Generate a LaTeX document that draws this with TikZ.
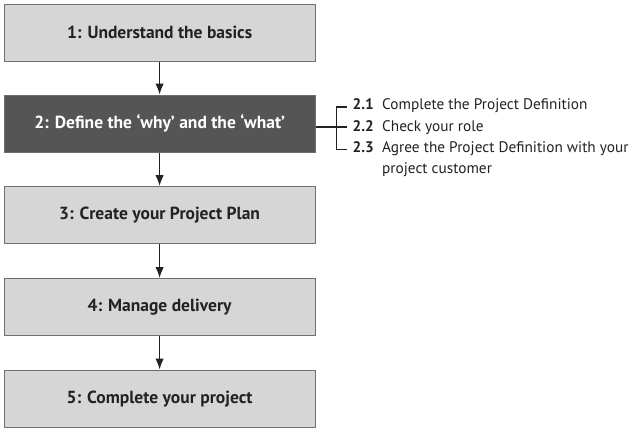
\documentclass[tikz,border=0pt]{standalone}
\usepackage{fontspec}
\setmainfont{PT Sans}
\usetikzlibrary{arrows.meta}
\definecolor{boxfill}{HTML}{D6D6D6}
\definecolor{boxdark}{HTML}{555555}
\definecolor{boxline}{HTML}{6E6E6E}
\definecolor{txt}{HTML}{222222}
\newcommand{\subnum}[1]{\makebox[29.5pt][l]{\textbf{#1}}}
\begin{document}
\begin{tikzpicture}[x=1pt,y=-1pt,
  stepbox/.style={draw=boxline,line width=1.2pt,fill=boxfill,minimum width=311pt,minimum height=57pt,inner sep=0pt,anchor=north west,text=txt,font=\fontsize{17.5}{19}\selectfont\bfseries},
  darkbox/.style={stepbox,fill=boxdark,text=white},
  flow/.style={draw=txt,line width=1.3pt,-{Latex[length=11pt,width=8.5pt]}},
  bracket/.style={draw=txt,line width=1.1pt},
  sub/.style={anchor=west,inner sep=0pt,text=txt,font=\fontsize{15.3}{17}\selectfont}]
\useasboundingbox (0,0) rectangle (632,431);
\node[stepbox] (b1) at (3.5,3.5) {1: Understand the basics};
\node[darkbox] (b2) at (3.5,94.5) {2: Define the ‘why’ and the ‘what’};
\node[stepbox] (b3) at (3.5,186) {3: Create your Project Plan};
\node[stepbox] (b4) at (3.5,278) {4: Manage delivery};
\node[stepbox] (b5) at (3.5,369.5) {5: Complete your project};
\draw[flow] (b1) -- (b2);
\draw[flow] (b2) -- (b3);
\draw[flow] (b3) -- (b4);
\draw[flow] (b4) -- (b5);
\node[sub] (s1) at (352.5,106) {\subnum{2.1}Complete the Project Definition};
\node[sub] (s2) at (352.5,127.5) {\subnum{2.2}Check your role};
\node[sub] (s3) at (352.5,148.5) {\subnum{2.3}Agree the Project Definition with your};
\node[sub] (s4) at (382,170) {project customer};
\coordinate (j) at (336.5,127);
\draw[bracket] (b2.east |- j) -- (j);
\draw[bracket] ([xshift=-6pt,yshift=-1pt]s1.west) -| (j) |- ([xshift=-6pt,yshift=-1pt]s3.west);
\draw[bracket] (j) -- ([xshift=-6pt]s2.west |- j);
\end{tikzpicture}
\end{document}
